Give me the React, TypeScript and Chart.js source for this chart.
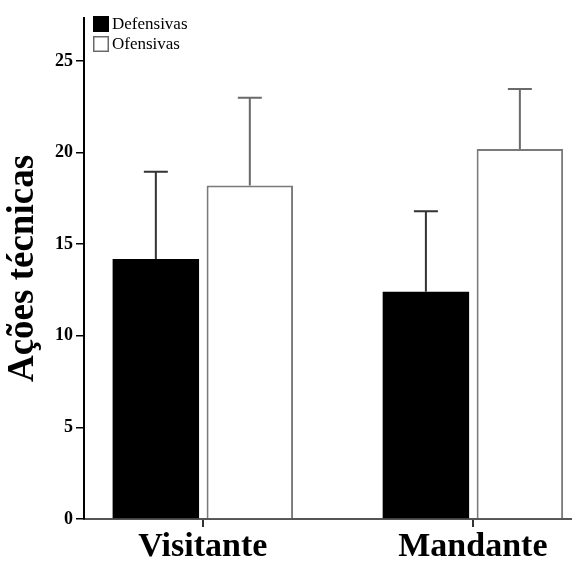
import React, { useEffect, useRef } from "react";
import { Chart, registerables } from "chart.js";

Chart.register(...registerables);

const categories = ["Visitante", "Mandante"];
const categoryPositions = [0, 1];
const defensivas = [14.2, 12.4];
const defensivasSd = [4.75, 4.4];
const ofensivas = [18.2, 20.2];
const ofensivasSd = [4.8, 3.27];
const yTicks = [0, 5, 10, 15, 20, 25];
const seriesNames = ["Defensivas", "Ofensivas"];

const SERIF = "'Liberation Serif', 'Times New Roman', serif";

const errorBars = {
  id: "errorBars",
  afterDatasetsDraw(chart: any) {
    const ctx = chart.ctx;
    const y = chart.scales.y;
    chart.data.datasets.forEach((ds: any, i: number) => {
      const meta = chart.getDatasetMeta(i);
      meta.data.forEach((bar: any, j: number) => {
        const v = ds.data[j].y;
        const sd = ds.sd[j];
        const x = bar.x;
        const y0 = y.getPixelForValue(v);
        const y1 = y.getPixelForValue(v + sd);
        ctx.save();
        ctx.strokeStyle = ds.errColor;
        ctx.lineWidth = 2;
        ctx.beginPath();
        ctx.moveTo(x, y0);
        ctx.lineTo(x, y1);
        ctx.moveTo(x - 12, y1);
        ctx.lineTo(x + 12, y1);
        ctx.stroke();
        ctx.restore();
      });
    });
  },
};

const boxLegend = {
  id: "boxLegend",
  afterDraw(chart: any) {
    const ctx = chart.ctx;
    const left = chart.chartArea.left + 9;
    const top = chart.chartArea.top - 2;
    ctx.save();
    chart.data.datasets.forEach((ds: any, i: number) => {
      const yy = top + i * 20;
      ctx.fillStyle = ds.backgroundColor;
      ctx.fillRect(left, yy, 16, 16);
      ctx.strokeStyle = ds.legendBorder;
      ctx.lineWidth = 1.5;
      ctx.strokeRect(left + 0.75, yy + 0.75, 14.5, 14.5);
      ctx.fillStyle = "#000";
      ctx.font = "17px " + SERIF;
      ctx.textBaseline = "middle";
      ctx.textAlign = "left";
      ctx.fillText(ds.label, left + 19, yy + 9);
    });
    ctx.restore();
  },
};

export default function App() {
  const ref = useRef<HTMLCanvasElement>(null);
  useEffect(() => {
    document.body.style.margin = "0";
    const chart = new Chart(ref.current as HTMLCanvasElement, {
      type: "bar",
      data: {
        datasets: [
          {
            label: seriesNames[0],
            data: categoryPositions.map((x, i) => ({ x, y: defensivas[i] })),
            sd: defensivasSd,
            backgroundColor: "#000000",
            borderColor: "#000000",
            borderWidth: 0,
            errColor: "#333333",
            legendBorder: "#000000",
            categoryPercentage: 0.696,
            barPercentage: 0.92,
          } as any,
          {
            label: seriesNames[1],
            data: categoryPositions.map((x, i) => ({ x, y: ofensivas[i] })),
            sd: ofensivasSd,
            backgroundColor: "#ffffff",
            borderColor: "#7a7a7a",
            borderWidth: 2,
            errColor: "#6a6a6a",
            legendBorder: "#6a6a6a",
            categoryPercentage: 0.696,
            barPercentage: 0.92,
          } as any,
        ],
      },
      options: {
        responsive: false,
        animation: false,
        layout: { padding: { top: 18, right: 0, left: 0, bottom: 0 } },
        plugins: {
          legend: { display: false },
          tooltip: { enabled: false },
        },
        scales: {
          x: {
            type: "linear",
            min: -0.44,
            max: 1.367,
            offset: false,
            afterBuildTicks: (s: any) => {
              s.ticks = categoryPositions.map((v) => ({ value: v }));
            },
            afterFit: (s: any) => {
              s.height = 44;
            },
            ticks: {
              callback: (v: any) => categories[Math.round(Number(v))],
              color: "#000",
              font: { family: SERIF, size: 34, weight: "bold" },
              padding: 0,
              maxRotation: 0,
              autoSkip: false,
            },
            grid: {
              display: true,
              offset: false,
              drawOnChartArea: false,
              drawTicks: true,
              tickLength: 8,
              color: "#333",
              lineWidth: 2,
            },
            border: { display: true, color: "#555", width: 2 },
          },
          y: {
            min: 0,
            max: 27.35,
            afterBuildTicks: (s: any) => {
              s.ticks = yTicks.map((v) => ({ value: v }));
            },
            afterFit: (s: any) => {
              s.width = 84;
            },
            ticks: {
              color: "#000",
              font: { family: SERIF, size: 18, weight: "bold" },
              padding: 3,
            },
            grid: {
              display: true,
              drawOnChartArea: false,
              drawTicks: true,
              tickLength: 8,
              color: "#000",
              lineWidth: 1.5,
            },
            border: { display: true, color: "#000", width: 2 },
            title: {
              display: true,
              text: "Ações técnicas",
              color: "#000",
              font: { family: SERIF, size: 37, weight: "bold" },
              padding: { top: 1, bottom: 0 },
            },
          },
        },
      } as any,
      plugins: [errorBars, boxLegend],
    });
    return () => chart.destroy();
  }, []);
  return (
    <div style={{ width: 572, height: 563 }}>
      <canvas ref={ref} width={572} height={563} />
    </div>
  );
}
